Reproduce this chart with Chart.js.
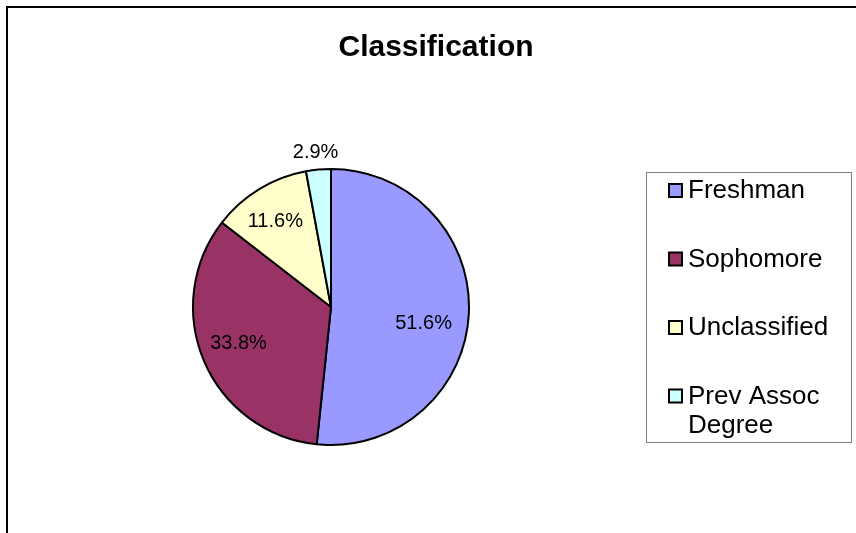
<!DOCTYPE html>
<html>
<head>
<meta charset="utf-8">
<script src="https://cdn.jsdelivr.net/npm/chart.js@4.4.1/dist/chart.umd.min.js"></script>
<style>
  html, body { margin: 0; padding: 0; background: #ffffff; }
  #wrap { width: 856px; height: 533px; }
</style>
</head>
<body>
<div id="wrap"><canvas id="chart" width="856" height="533"></canvas></div>
<script>
const chartTitle = 'Classification';
const categories = ['Freshman', 'Sophomore', 'Unclassified', 'Prev Assoc Degree'];
const shares = [51.6, 33.8, 11.6, 2.9];
const sliceColors = ['#9999FF', '#993366', '#FFFFCC', '#CCFFFF'];

const FONT = '"Liberation Sans", Arial, sans-serif';

// small nudges so the labels sit where Excel put them
const labelNudge = [[3, 12], [-10, 1], [-9, -9], [-1, 4]];

function wrapWords(ctx, text, maxW) {
    const words = text.split(' ');
    const lines = [];
    let line = '';
    words.forEach(w => {
        const test = line ? line + ' ' + w : w;
        if (line && ctx.measureText(test).width > maxW) {
            lines.push(line);
            line = w;
        } else {
            line = test;
        }
    });
    if (line) lines.push(line);
    return lines;
}

const excelLook = {
    id: 'excelLook',
    beforeDraw(chart) {
        const ctx = chart.ctx;
        ctx.save();
        ctx.fillStyle = '#ffffff';
        ctx.fillRect(0, 0, chart.width, chart.height);
        // outer chart frame (cut off at right and bottom)
        ctx.strokeStyle = '#000000';
        ctx.lineWidth = 2;
        ctx.strokeRect(7, 7, chart.width + 20, chart.height + 20);
        ctx.restore();
    },
    afterDraw(chart) {
        const ctx = chart.ctx;
        ctx.save();

        // title
        ctx.fillStyle = '#000000';
        ctx.font = 'bold 30px ' + FONT;
        ctx.textAlign = 'center';
        ctx.textBaseline = 'middle';
        ctx.fillText(chartTitle, 436, 48);

        // slice labels
        const meta = chart.getDatasetMeta(0);
        ctx.font = '20px ' + FONT;
        meta.data.forEach((arc, i) => {
            const mid = (arc.startAngle + arc.endAngle) / 2;
            const f = shares[i] < 5 ? 1.15 : 0.65;
            const x = arc.x + Math.cos(mid) * arc.outerRadius * f + labelNudge[i][0];
            const y = arc.y + Math.sin(mid) * arc.outerRadius * f + labelNudge[i][1];
            ctx.fillText(shares[i].toFixed(1) + '%', x, y);
        });

        // legend box
        ctx.strokeStyle = '#808080';
        ctx.lineWidth = 1;
        ctx.strokeRect(646.5, 172.5, 205, 270);

        ctx.font = '26px ' + FONT;
        ctx.textAlign = 'left';
        categories.forEach((name, i) => {
            const cy = 191 + i * 68.5;
            ctx.fillStyle = sliceColors[i];
            ctx.fillRect(669, cy - 7, 13, 13);
            ctx.strokeStyle = '#000000';
            ctx.lineWidth = 2;
            ctx.strokeRect(669, cy - 7, 13, 13);
            ctx.fillStyle = '#000000';
            const lines = wrapWords(ctx, name, 158);
            lines.forEach((ln, k) => ctx.fillText(ln, 688, cy + k * 29));
        });

        ctx.restore();
    }
};

new Chart(document.getElementById('chart'), {
    type: 'pie',
    data: {
        labels: categories,
        datasets: [{
            data: shares,
            backgroundColor: sliceColors,
            borderColor: '#000000',
            borderWidth: 2
        }]
    },
    options: {
        responsive: false,
        animation: false,
        events: [],
        layout: {
            padding: { left: 192, right: 386, top: 168, bottom: 87 }
        },
        plugins: {
            legend: { display: false },
            title: { display: false },
            tooltip: { enabled: false }
        }
    },
    plugins: [excelLook]
});
</script>
</body>
</html>
